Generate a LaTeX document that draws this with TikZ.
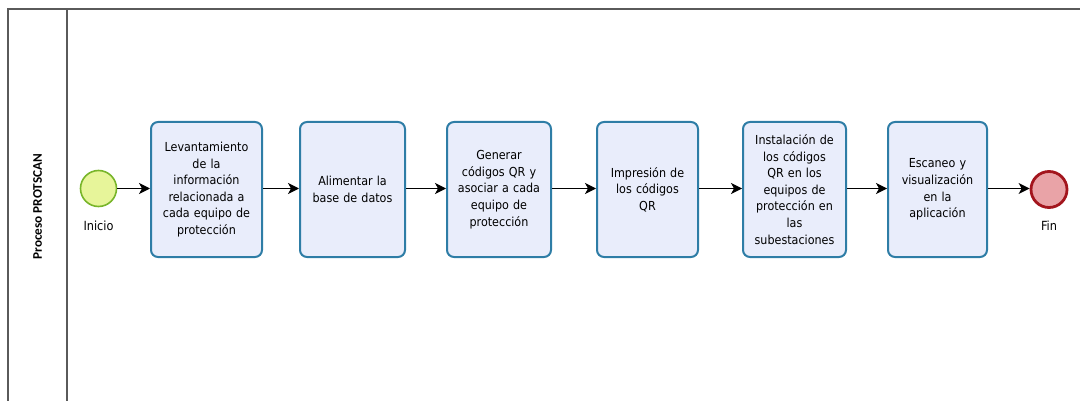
\documentclass[tikz,border=0pt]{standalone}
\usepackage{fontspec}
\setmainfont{DejaVu Sans Condensed}
\newfontfamily\lanefont{Carlito}
\usetikzlibrary{arrows.meta}
\definecolor{laneline}{HTML}{5A5A5A}
\definecolor{taskfill}{HTML}{E9EDFB}
\definecolor{taskdraw}{HTML}{2E7DA6}
\definecolor{startfill}{HTML}{E7F59A}
\definecolor{startdraw}{HTML}{78B52A}
\definecolor{endfill}{HTML}{E9A3A7}
\definecolor{enddraw}{HTML}{A3151D}
\tikzset{
  task/.style={draw=taskdraw, fill=taskfill, line width=2pt, rounded corners=7pt,
    minimum height=135pt, inner sep=0pt, align=center,
    font=\fontsize{12.4}{16.6}\selectfont},
  startev/.style={circle, draw=startdraw, fill=startfill, line width=1.6pt,
    minimum size=36pt, inner sep=0pt},
  endev/.style={circle, draw=enddraw, fill=endfill, line width=2.8pt,
    minimum size=36pt, inner sep=0pt},
  evlabel/.style={font=\fontsize{12.6}{14}\selectfont, inner sep=0pt},
  flow/.style={-{Stealth[length=11pt,width=11pt,inset=3pt]}, line width=1.2pt, black},
  lane/.style={draw=laneline, line width=1.5pt}
}
\begin{document}
\begin{tikzpicture}[x=1pt,y=-1pt]
\useasboundingbox (0,0) rectangle (1080,401);
% pool frame and lane header
\draw[lane] (8,401) -- (8,9) -- (1080,9);
\draw[lane] (67,9) -- (67,401);
\node[rotate=90, font=\lanefont\bfseries\fontsize{13.2}{14}\selectfont] (title) at (37.5,206.5) {Proceso PROTSCAN};
% events
\node[startev] (inicio) at (98.5,188.5) {};
\node[evlabel] (linicio) at (98.5,226) {Inicio};
\node[endev] (fin) at (1049,189.5) {};
\node[evlabel] (lfin) at (1049,226) {Fin};
% tasks
\node[task, minimum width=111pt, text width=105pt] (t1) at (206.5,189.5)
  {Levantamiento\\de la\\información\\relacionada a\\cada equipo de\\protección};
\node[task, minimum width=105pt, text width=100pt] (t2) at (352.5,189.5)
  {Alimentar la\\base de datos};
\node[task, minimum width=104pt, text width=100pt] (t3) at (499,189.5)
  {Generar\\códigos QR y\\asociar a cada\\equipo de\\protección};
\node[task, minimum width=101pt, text width=97pt] (t4) at (647.5,189.5)
  {Impresión de\\los códigos\\QR};
\node[task, minimum width=103pt, text width=99pt] (t5) at (794.5,189.5)
  {Instalación de\\los códigos\\QR en los\\equipos de\\protección en\\las\\subestaciones};
\node[task, minimum width=99pt, text width=95pt] (t6) at (937.5,189.5)
  {Escaneo y\\visualización\\en la\\aplicación};
% sequence flows
\draw[flow] (inicio.east) -- (inicio.east -| t1.west);
\draw[flow] (t1.east |- inicio.east) -- (t2.west |- inicio.east);
\draw[flow] (t2.east |- inicio.east) -- (t3.west |- inicio.east);
\draw[flow] (t3.east |- inicio.east) -- (t4.west |- inicio.east);
\draw[flow] (t4.east |- inicio.east) -- (t5.west |- inicio.east);
\draw[flow] (t5.east |- inicio.east) -- (t6.west |- inicio.east);
\draw[flow] (t6.east |- inicio.east) -- (fin.west |- inicio.east);
\end{tikzpicture}
\end{document}
